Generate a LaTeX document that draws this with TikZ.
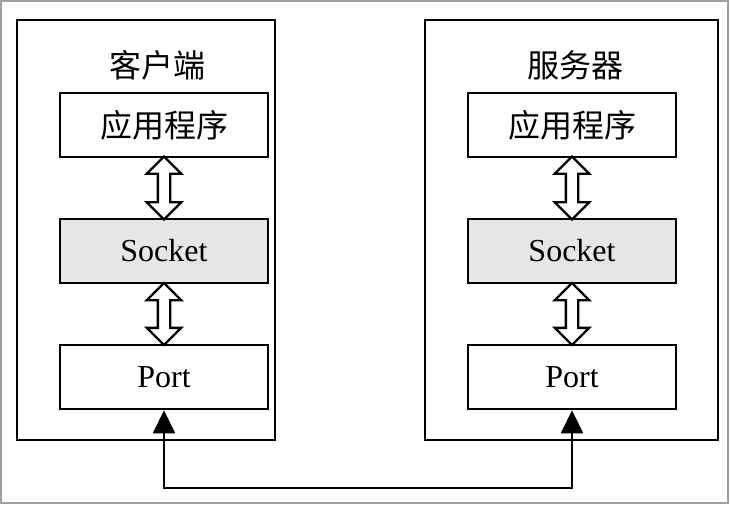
\documentclass[tikz,border=0pt]{standalone}
\usepackage{fontspec}
\setmainfont{Liberation Serif}
\newfontfamily\cjk{Noto Sans CJK SC}
\usetikzlibrary{positioning, calc, shapes.arrows, arrows.meta}
\definecolor{sockfill}{RGB}{230,230,230}
\tikzset{
    every node/.style={font=\fontsize{32pt}{38pt}\selectfont}, % big text everywhere
    layer/.style={draw, line width=2.6pt, minimum width=208pt, minimum height=64pt, inner sep=0pt}, % one layer box
    host/.style={draw, line width=2.6pt, minimum height=420pt, inner sep=0pt}, % outer frame of a machine
    link/.style={double arrow, draw, fill=white, line width=2.4pt, shape border rotate=90, minimum height=63pt, inner sep=5pt, double arrow head extend=11pt}, % hollow two-way arrow
    node distance=126pt, % centre to centre of the layers
}
\begin{document}
\begin{tikzpicture}[x=1pt, y=-1pt]
    \useasboundingbox (0,0) rectangle (730,505);
    \draw[gray!75, line width=2.5pt] (1,1) rectangle (728,503);
    % client side
    \node[host, minimum width=258pt] (pc) at (146,230) {};
    \node (pct) at (157,65) {\cjk 客户端};
    \node[layer] (app1) at (164,125) {\cjk 应用程序};
    \node[layer, fill=sockfill, below of=app1] (sock1) {Socket};
    \node[layer, below of=sock1] (port1) {Port};
    \node[link] at ($(app1.south)!0.5!(sock1.north)$) {};
    \node[link, minimum height=62pt] at ($(sock1.south)!0.5!(port1.north)$) {};
    % server side
    \node[host, minimum width=293pt] (srv) at (571.5,230) {};
    \node (srvt) at (575,65) {\cjk 服务器};
    \node[layer] (app2) at (572,125) {\cjk 应用程序};
    \node[layer, fill=sockfill, below of=app2] (sock2) {Socket};
    \node[layer, below of=sock2] (port2) {Port};
    \node[link] at ($(app2.south)!0.5!(sock2.north)$) {};
    \node[link, minimum height=62pt] at ($(sock2.south)!0.5!(port2.north)$) {};
    % the wire between the ports
    \coordinate (bus) at (360,488);
    \draw[line width=2.6pt, {Triangle[length=23pt, width=22pt]}-{Triangle[length=23pt, width=22pt]}]
        (port1.south) |- (bus) -| (port2.south);
\end{tikzpicture}
\end{document}
